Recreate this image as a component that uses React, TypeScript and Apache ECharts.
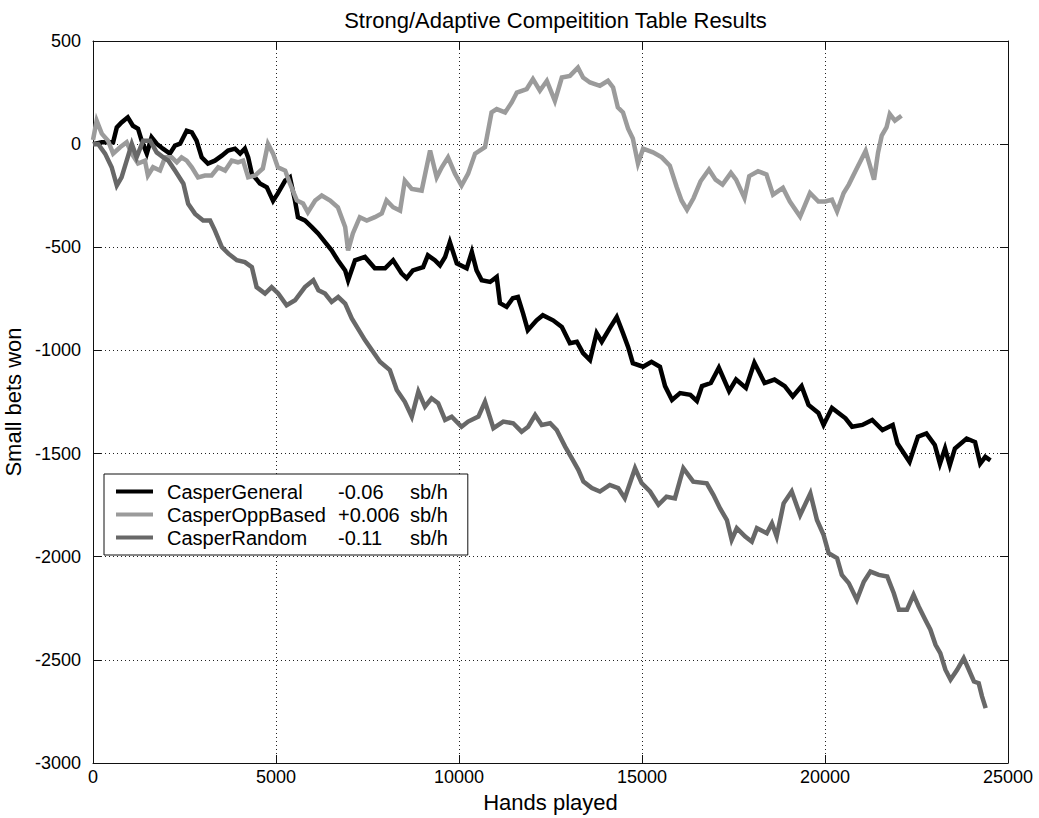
import React, { useEffect, useRef } from "react";
import * as echarts from "echarts";

// Cumulative small bets won, sampled as [hands played, small bets won]
const casperGeneral: [number, number][] = [
  [0, 0], [240, 9], [550, 9], [650, 81], [780, 105], [950, 130], [1090, 89], [1230, 75], [1330, 17],
  [1470, -46], [1600, 33], [1740, 2], [1910, -22], [2100, -46], [2240, -7], [2380, 2], [2560, 65],
  [2700, 57], [2830, 17], [2970, -64], [3140, -94], [3330, -80], [3520, -56], [3690, -31], [3880, -22],
  [4020, -46], [4150, -22], [4240, -64], [4340, -143], [4560, -191], [4750, -209], [4920, -275],
  [5050, -239], [5250, -177], [5380, -161], [5520, -275], [5600, -354], [5790, -370], [5980, -402],
  [6150, -433], [6340, -475], [6520, -515], [6690, -563], [6890, -612], [6970, -660], [7160, -563],
  [7430, -547], [7700, -602], [7980, -602], [8200, -563], [8430, -626], [8570, -650], [8740, -612],
  [9020, -596], [9150, -539], [9340, -563], [9480, -588], [9620, -547], [9750, -475], [9940, -578],
  [10210, -602], [10350, -523], [10480, -612], [10620, -660], [10850, -668], [11030, -644],
  [11120, -771], [11300, -789], [11470, -747], [11610, -741], [11750, -820], [11880, -902],
  [12120, -854], [12290, -829], [12570, -854], [12810, -886], [13030, -965], [13220, -958],
  [13390, -1013], [13580, -1047], [13760, -916], [13900, -958], [14120, -892], [14310, -838],
  [14480, -916], [14620, -983], [14750, -1062], [15030, -1079], [15260, -1055], [15490, -1079],
  [15630, -1173], [15820, -1240], [16040, -1207], [16320, -1215], [16500, -1245], [16640, -1173],
  [16880, -1158], [17100, -1084], [17380, -1197], [17570, -1141], [17840, -1182], [18070, -1060],
  [18350, -1158], [18620, -1141], [18900, -1173], [19120, -1223], [19360, -1173], [19550, -1264],
  [19820, -1303], [19960, -1361], [20190, -1279], [20560, -1329], [20740, -1370], [21020, -1361],
  [21290, -1337], [21570, -1386], [21850, -1361], [21980, -1451], [22310, -1540], [22540, -1418],
  [22770, -1402], [23000, -1458], [23140, -1549], [23280, -1475], [23410, -1557], [23550, -1475],
  [23870, -1427], [24100, -1444], [24240, -1549], [24380, -1516], [24520, -1533],
];

const casperOppBased: [number, number][] = [
  [0, 20], [100, 114], [240, 51], [410, 17], [550, -46], [740, -15], [920, 9], [1060, -46],
  [1230, -94], [1420, -80], [1500, -152], [1640, -112], [1830, -128], [1970, -64], [2150, -64],
  [2290, -88], [2420, -64], [2560, -80], [2700, -112], [2870, -161], [3060, -152], [3240, -152],
  [3420, -112], [3610, -128], [3790, -80], [3960, -88], [4100, -80], [4240, -161], [4430, -152],
  [4640, -118], [4780, 1], [4920, -46], [5050, -112], [5250, -128], [5380, -191], [5570, -273],
  [5740, -288], [5870, -330], [6070, -273], [6250, -249], [6480, -273], [6690, -306], [6890, -402],
  [6970, -515], [7100, -433], [7290, -354], [7480, -370], [7700, -354], [7890, -336], [8020, -273],
  [8200, -306], [8390, -322], [8520, -177], [8710, -217], [8980, -225], [9210, -31], [9390, -161],
  [9530, -112], [9700, -64], [9890, -143], [10070, -201], [10250, -143], [10440, -46], [10710, -15],
  [10890, 154], [11030, 170], [11260, 154], [11440, 202], [11580, 250], [11850, 267], [12020, 315],
  [12210, 259], [12400, 307], [12620, 210], [12810, 323], [13030, 331], [13250, 371], [13390, 323],
  [13580, 299], [13850, 283], [14070, 307], [14210, 275], [14340, 178], [14480, 154], [14620, 75],
  [14750, 27], [14890, -94], [15030, -22], [15300, -40], [15540, -64], [15760, -104], [15950, -209],
  [16080, -273], [16230, -318], [16410, -261], [16600, -180], [16830, -123], [17010, -172],
  [17200, -196], [17430, -139], [17570, -172], [17800, -261], [17930, -155], [18170, -131],
  [18400, -147], [18580, -245], [18850, -212], [19040, -278], [19320, -351], [19590, -237],
  [19820, -278], [20010, -278], [20190, -269], [20330, -326], [20510, -237], [20650, -196],
  [20830, -131], [21110, -33], [21340, -172], [21450, -40], [21550, 41], [21680, 81], [21770, 146],
  [21910, 114], [22090, 138],
];

const casperRandom: [number, number][] = [
  [0, 0], [140, 1], [330, -46], [510, -112], [650, -201], [780, -161], [920, -80], [1060, 1],
  [1190, -64], [1370, 17], [1560, 17], [1740, -40], [1920, -64], [2060, -80], [2240, -128],
  [2470, -192], [2600, -289], [2790, -338], [3010, -370], [3200, -370], [3330, -418], [3520, -499],
  [3700, -531], [3930, -563], [4150, -572], [4340, -596], [4470, -693], [4700, -724], [4880, -693],
  [5060, -724], [5290, -781], [5520, -757], [5790, -693], [6020, -660], [6160, -708], [6340, -724],
  [6520, -765], [6700, -741], [6890, -773], [7070, -845], [7430, -950], [7840, -1055], [8110, -1095],
  [8300, -1192], [8520, -1249], [8710, -1321], [8890, -1200], [9070, -1273], [9250, -1232],
  [9430, -1256], [9620, -1337], [9800, -1321], [10070, -1370], [10250, -1345], [10530, -1321],
  [10710, -1249], [10940, -1377], [11210, -1345], [11480, -1353], [11710, -1394], [11890, -1370],
  [12080, -1313], [12260, -1361], [12490, -1353], [12670, -1386], [12900, -1466], [13080, -1522],
  [13260, -1579], [13400, -1636], [13630, -1667], [13850, -1684], [14120, -1652], [14350, -1667],
  [14530, -1716], [14810, -1571], [14990, -1643], [15220, -1684], [15450, -1748], [15670, -1709],
  [15900, -1717], [16130, -1571], [16400, -1636], [16770, -1644], [16950, -1700], [17130, -1765],
  [17320, -1822], [17450, -1918], [17590, -1862], [17820, -1902], [18000, -1927], [18140, -1862],
  [18410, -1886], [18550, -1838], [18680, -1902], [18870, -1741], [19090, -1684], [19320, -1798],
  [19600, -1693], [19780, -1822], [19960, -1894], [20100, -1983], [20330, -2007], [20460, -2088],
  [20650, -2128], [20870, -2209], [21060, -2121], [21240, -2072], [21470, -2088], [21700, -2096],
  [21880, -2177], [22020, -2257], [22240, -2257], [22420, -2185], [22560, -2241], [22740, -2306],
  [22880, -2354], [23020, -2427], [23150, -2467], [23290, -2548], [23430, -2596], [23610, -2548],
  [23790, -2492], [23930, -2548], [24070, -2605], [24200, -2613], [24290, -2677], [24390, -2734],
];

const seriesNames = ["CasperGeneral", "CasperOppBased", "CasperRandom"];
const seriesRates = ["-0.06", "+0.006", "-0.11"];
const seriesUnit = "sb/h";
const seriesColors = ["#000000", "#9b9b9b", "#686868"];

const titleText = "Strong/Adaptive Compeitition Table Results";
const xName = "Hands played";
const yName = "Small bets won";

const FONT = "'Liberation Sans', Arial, Helvetica, sans-serif";

export default function App() {
  const ref = useRef<HTMLDivElement>(null);

  useEffect(() => {
    if (!ref.current) return;
    const chart = echarts.init(ref.current, undefined, { renderer: "svg" });

    const grid = {
      left: 93,
      right: 31,
      top: 41,
      bottom: 55,
      containLabel: false,
      outerBoundsMode: "none",
    };
    const dotted = { type: [1, 3] as number[], color: "#222", width: 1 };
    const xCommon = { type: "value" as const, min: 0, max: 25000, interval: 5000 };
    const yCommon = { type: "value" as const, min: -3000, max: 500, interval: 500 };
    const frameLine = { show: true, onZero: false, lineStyle: { color: "#111", width: 1 } };
    const innerTick = { show: true, inside: true, length: 8, lineStyle: { color: "#111", width: 1 } };
    const plain = (v: number) => String(v);
    const tickFont = { fontFamily: FONT, fontSize: 18, color: "#000", formatter: plain };

    const data = [casperGeneral, casperOppBased, casperRandom];

    chart.setOption({
      animation: false,
      backgroundColor: "#ffffff",
      title: {
        text: titleText,
        left: 550.5,
        textAlign: "center",
        top: 4,
        textStyle: { fontFamily: FONT, fontSize: 22, fontWeight: "normal", color: "#000" },
      },
      grid,
      legend: {
        orient: "vertical",
        left: 104,
        top: 474,
        data: seriesNames,
        icon: "rect",
        itemWidth: 37,
        itemHeight: 4,
        itemGap: 0,
        selectedMode: false,
        backgroundColor: "#ffffff",
        borderColor: "#111",
        borderWidth: 1,
        borderRadius: 0,
        padding: [6, 20, 6, 12],
        formatter: (name: string) => {
          const i = seriesNames.indexOf(name);
          return `{n|${name}}{v|${seriesRates[i]}}{u|${seriesUnit}}`;
        },
        textStyle: {
          fontFamily: FONT,
          fontSize: 20,
          color: "#000",
          lineHeight: 23,
          rich: {
            n: { fontFamily: FONT, fontSize: 20, color: "#000", width: 171, padding: [0, 0, 0, 9] },
            v: { fontFamily: FONT, fontSize: 20, color: "#000", width: 72 },
            u: { fontFamily: FONT, fontSize: 20, color: "#000" },
          },
        },
      },
      xAxis: [
        {
          ...xCommon,
          position: "bottom",
          name: xName,
          nameLocation: "middle",
          nameGap: 28,
          nameTextStyle: { fontFamily: FONT, fontSize: 22, color: "#000" },
          axisLine: frameLine,
          axisTick: innerTick,
          axisLabel: { ...tickFont, margin: 5 },
          splitLine: { show: true, lineStyle: dotted },
        },
        {
          ...xCommon,
          position: "top",
          axisLine: frameLine,
          axisTick: innerTick,
          axisLabel: { show: false },
          splitLine: { show: false },
        },
      ],
      yAxis: [
        {
          ...yCommon,
          position: "left",
          name: yName,
          nameLocation: "middle",
          nameGap: 56,
          nameRotate: 90,
          nameTextStyle: { fontFamily: FONT, fontSize: 22, color: "#000" },
          axisLine: frameLine,
          axisTick: innerTick,
          axisLabel: { ...tickFont, margin: 12 },
          splitLine: { show: true, lineStyle: dotted },
        },
        {
          ...yCommon,
          position: "right",
          axisLine: frameLine,
          axisTick: innerTick,
          axisLabel: { show: false },
          splitLine: { show: false },
        },
      ],
      series: seriesNames.map((name, i) => ({
        name,
        type: "line",
        xAxisIndex: 0,
        yAxisIndex: 0,
        data: data[i],
        showSymbol: false,
        symbol: "none",
        color: seriesColors[i],
        lineStyle: { color: seriesColors[i], width: 4.5, join: "miter" },
        z: 3 + i,
      })),
    });

    return () => {
      chart.dispose();
    };
  }, []);

  return (
    <div
      ref={ref}
      style={{ position: "absolute", left: 0, top: 0, width: 1039, height: 818, background: "#fff" }}
    />
  );
}
